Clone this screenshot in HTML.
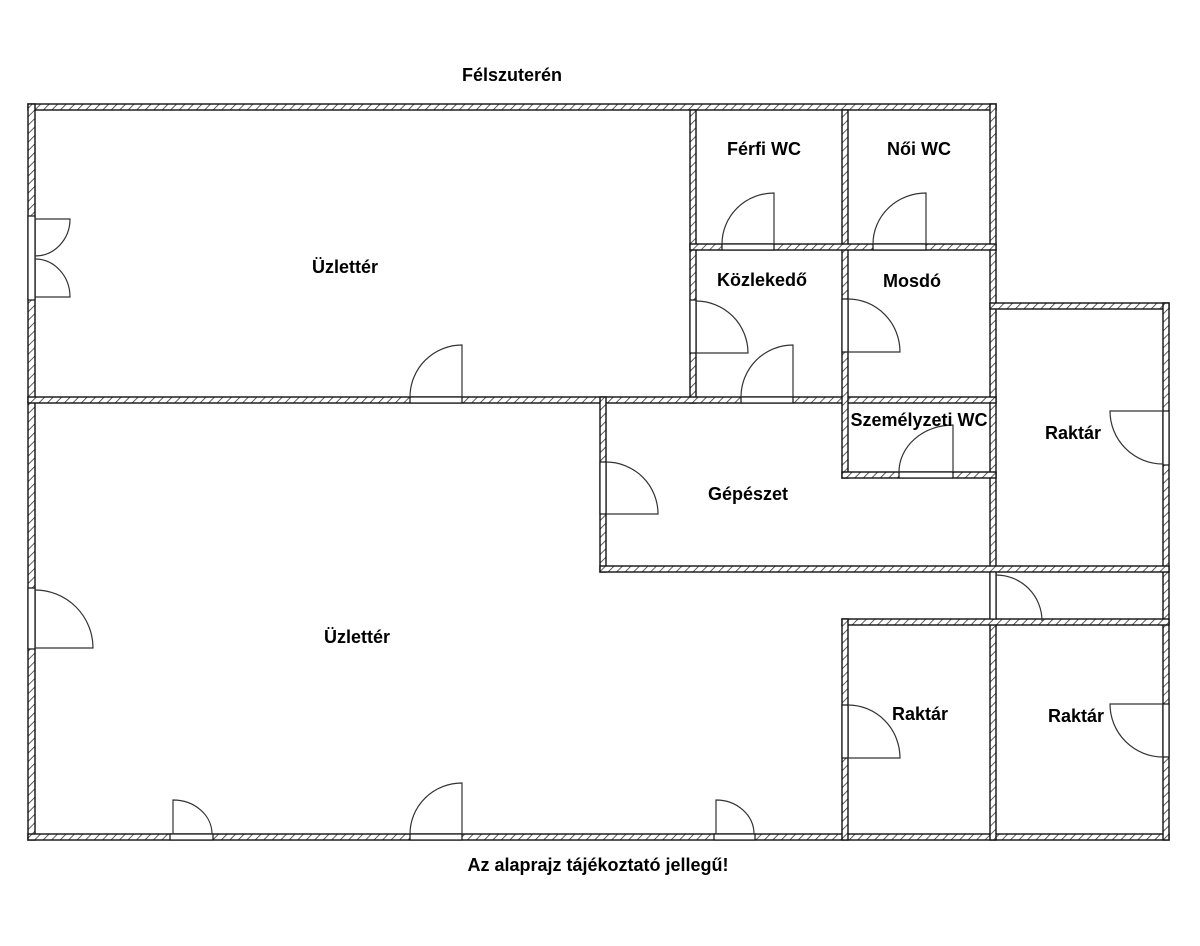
<!DOCTYPE html>
<html><head><meta charset="utf-8"><style>
html,body{margin:0;padding:0;background:#fff;}
svg{display:block;}
text{font-family:"Liberation Sans",Arial,sans-serif;font-weight:bold;font-size:18px;fill:#000;}
</style></head><body>
<svg width="1200" height="946" viewBox="0 0 1200 946" xmlns="http://www.w3.org/2000/svg">
<defs>
<pattern id="h" width="6" height="6" patternUnits="userSpaceOnUse" patternTransform="rotate(45)">
<rect width="6" height="6" fill="#fff"/><line x1="0" y1="0" x2="0" y2="6" stroke="#333" stroke-width="1.6"/>
</pattern>
</defs>
<g fill="url(#h)" stroke="#111" stroke-width="1.4">
<rect x="28" y="104" width="968" height="6"/>
<rect x="28" y="104" width="7" height="736"/>
<rect x="28" y="834" width="1141" height="6"/>
<rect x="990" y="104" width="6" height="736"/>
<rect x="990" y="303" width="179" height="6"/>
<rect x="1163" y="303" width="6" height="537"/>
<rect x="690" y="110" width="6" height="293"/>
<rect x="28" y="397" width="968" height="6"/>
<rect x="842" y="110" width="6" height="368"/>
<rect x="690" y="244" width="306" height="6"/>
<rect x="842" y="472" width="154" height="6"/>
<rect x="600" y="397" width="6" height="175"/>
<rect x="600" y="566" width="569" height="6"/>
<rect x="842" y="619" width="327" height="6"/>
<rect x="842" y="619" width="6" height="221"/>
</g>
<g fill="#fff" stroke="#111" stroke-width="1.2">
<rect x="28" y="216" width="7" height="84"/>
<rect x="410" y="397" width="52" height="6"/>
<rect x="722" y="244" width="52" height="6"/>
<rect x="873" y="244" width="53" height="6"/>
<rect x="690" y="300" width="6" height="53"/>
<rect x="741" y="397" width="52" height="6"/>
<rect x="842" y="299" width="6" height="53"/>
<rect x="899" y="472" width="54" height="6"/>
<rect x="600" y="462" width="6" height="52"/>
<rect x="990" y="572" width="6" height="47"/>
<rect x="1163" y="411" width="6" height="54"/>
<rect x="842" y="705" width="6" height="53"/>
<rect x="1163" y="704" width="6" height="53"/>
<rect x="28" y="588" width="7" height="61"/>
<rect x="170" y="834" width="43" height="6"/>
<rect x="410" y="834" width="52" height="6"/>
<rect x="714" y="834" width="41" height="6"/>
</g>
<g fill="none" stroke="#333" stroke-width="1.2">
<path d="M35 219 H70 A35 37 0 0 1 35 256"/>
<path d="M35 297 H70 A35 38 0 0 0 35 259"/>
<path d="M462 397 V345 A52 52 0 0 0 410 397"/>
<path d="M774 244 V193 A52 51 0 0 0 722 244"/>
<path d="M926 244 V193 A53 51 0 0 0 873 244"/>
<path d="M696 353 H748 A52 52 0 0 0 696 301"/>
<path d="M793 397 V345 A52 52 0 0 0 741 397"/>
<path d="M848 352 H900 A52 53 0 0 0 848 299"/>
<path d="M953 472 V425 A54 47 0 0 0 899 472"/>
<path d="M606 514 H658 A52 52 0 0 0 606 462"/>
<path d="M996 575 A46 46 0 0 1 1042 621"/>
<path d="M1163 411 H1110 A53 53 0 0 0 1163 464"/>
<path d="M848 758 H900 A52 53 0 0 0 848 705"/>
<path d="M1163 704 H1110 A53 53 0 0 0 1163 757"/>
<path d="M35 648 H93 A58 58 0 0 0 35 590"/>
<path d="M173 834 V800 A39 34 0 0 1 212 834"/>
<path d="M462 834 V783 A52 51 0 0 0 410 834"/>
<path d="M716 834 V800 A38 34 0 0 1 754 834"/>
</g>
<text x="512" y="81" text-anchor="middle">Félszuterén</text>
<text x="345" y="273" text-anchor="middle">Üzlettér</text>
<text x="764" y="155" text-anchor="middle">Férfi WC</text>
<text x="919" y="155" text-anchor="middle">Női WC</text>
<text x="762" y="286" text-anchor="middle">Közlekedő</text>
<text x="912" y="287" text-anchor="middle">Mosdó</text>
<text x="919" y="426" text-anchor="middle">Személyzeti WC</text>
<text x="1073" y="439" text-anchor="middle">Raktár</text>
<text x="748" y="500" text-anchor="middle">Gépészet</text>
<text x="357" y="643" text-anchor="middle">Üzlettér</text>
<text x="920" y="720" text-anchor="middle">Raktár</text>
<text x="1076" y="722" text-anchor="middle">Raktár</text>
<text x="598" y="871" text-anchor="middle">Az alaprajz tájékoztató jellegű!</text>
</svg>
</body></html>
